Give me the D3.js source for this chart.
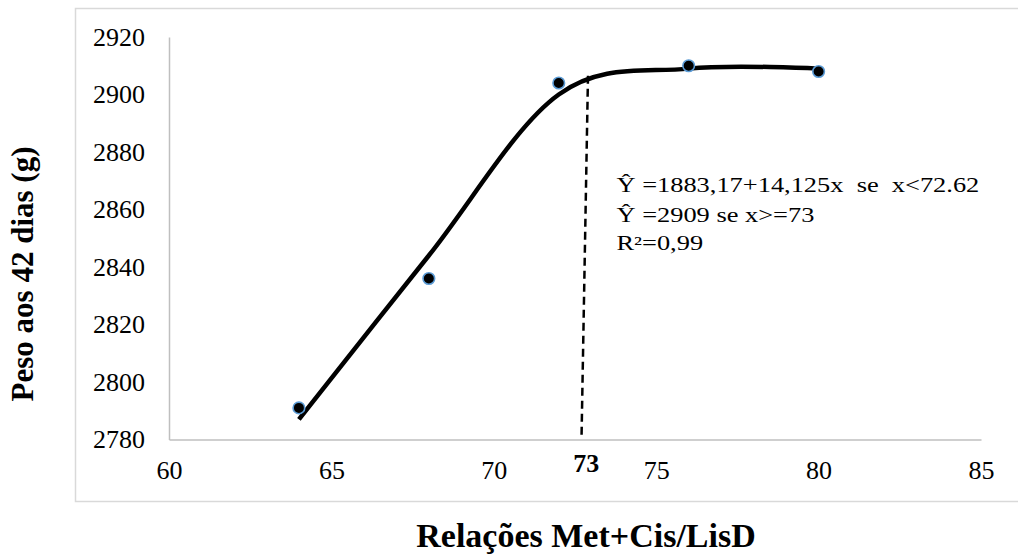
<!DOCTYPE html>
<html>
<head>
<meta charset="utf-8">
<script src="https://cdn.jsdelivr.net/npm/d3@7"></script>
<style>
  body { margin: 0; background: #fff; }
  svg { display: block; font-family: "Liberation Serif", "Times New Roman", serif; }
</style>
</head>
<body>
<div id="grafico"></div>
<script>
// valores
var relacoes = [64, 68, 72, 76, 80];
var pesoObservado = [2791, 2836, 2904, 2910, 2908];
var pesoAjustado = [2787, 2844, 2900, 2909, 2909];
var xTicks = [60, 65, 70, 75, 80, 85];
var yTicks = [2780, 2800, 2820, 2840, 2860, 2880, 2900, 2920];
var linhaQuebra = [{ x: 72.9, y: 2906.5 }, { x: 72.7, y: 2780 }];
var rotuloQuebra = "73";
var equacoes = ["Ŷ =1883,17+14,125x  se  x<72.62", "Ŷ =2909 se x>=73", "R²=0,99"];

var width = 1018, height = 557;
var fonte = "'Liberation Serif', 'Times New Roman', serif";

var svg = d3.select("#grafico")
    .append("svg")
    .attr("width", width)
    .attr("height", height);

// moldura externa
svg.append("rect")
    .attr("x", 75.5).attr("y", 8.5)
    .attr("width", 980).attr("height", 493)
    .attr("fill", "none")
    .attr("stroke", "#d9d9d9")
    .attr("stroke-width", 1.5);

var x = d3.scaleLinear().domain([60, 85]).range([169, 981]);
var y = d3.scaleLinear().domain([2780, 2920]).range([439.5, 37]);

var eixoX = svg.append("g")
    .attr("transform", "translate(0," + y(2780) + ")")
    .call(d3.axisBottom(x).tickValues(xTicks).tickFormat(d3.format("d")).tickSize(0).tickPadding(21));
var eixoY = svg.append("g")
    .attr("transform", "translate(" + x(60) + ",0)")
    .call(d3.axisLeft(y).tickValues(yTicks).tickFormat(d3.format("d")).tickSize(0).tickPadding(24));

[eixoX, eixoY].forEach(function (g) {
    g.attr("font-family", fonte).attr("font-size", 26);
    g.select(".domain").attr("stroke", "#bfbfbf").attr("stroke-width", 1.5);
    g.selectAll("text")
        .style("font-family", fonte)
        .style("font-size", "26px")
        .attr("fill", "#000");
});

// linha tracejada no ponto de quebra
svg.append("line")
    .attr("x1", x(linhaQuebra[0].x)).attr("y1", y(linhaQuebra[0].y))
    .attr("x2", x(linhaQuebra[1].x)).attr("y2", y(linhaQuebra[1].y))
    .attr("stroke", "#000")
    .attr("stroke-width", 2.5)
    .attr("stroke-dasharray", "8,5");

svg.append("text")
    .attr("x", x(72.85)).attr("y", 471.5)
    .attr("text-anchor", "middle")
    .style("font-size", "26px")
    .style("font-weight", "bold")
    .text(rotuloQuebra);

// curva ajustada
var linha = d3.line()
    .x(function (d, i) { return x(relacoes[i]); })
    .y(function (d) { return y(d); })
    .curve(d3.curveCatmullRom.alpha(0));

svg.append("path")
    .datum(pesoAjustado)
    .attr("d", linha)
    .attr("fill", "none")
    .attr("stroke", "#000")
    .attr("stroke-width", 4.5);

// pontos observados
svg.selectAll("circle.ponto")
    .data(pesoObservado).enter()
    .append("circle")
    .attr("class", "ponto")
    .attr("cx", function (d, i) { return x(relacoes[i]); })
    .attr("cy", function (d) { return y(d); })
    .attr("r", 5.8)
    .attr("fill", "#000")
    .attr("stroke", "#5b9bd5")
    .attr("stroke-width", 1.6);

// equações
var baselines = [192, 221.5, 250];
svg.selectAll("text.eq")
    .data(equacoes).enter()
    .append("text")
    .attr("class", "eq")
    .attr("transform", function (d, i) { return "translate(616.5," + baselines[i] + ") scale(1,0.76)"; })
    .style("font-size", "26.4px")
    .style("white-space", "pre")
    .text(function (d) { return d; });

// títulos dos eixos
svg.append("text")
    .attr("transform", "translate(33,274) rotate(-90)")
    .attr("text-anchor", "middle")
    .style("font-size", "31px")
    .style("font-weight", "bold")
    .text("Peso aos 42 dias (g)");

svg.append("text")
    .attr("x", 586).attr("y", 547)
    .attr("text-anchor", "middle")
    .style("font-size", "34px")
    .style("font-weight", "bold")
    .text("Relações Met+Cis/LisD");
</script>
</body>
</html>
